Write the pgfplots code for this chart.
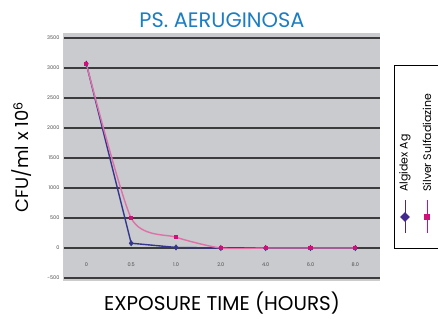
\documentclass[border=0pt]{standalone}
\usepackage{pgfplots}
\pgfplotsset{compat=1.18}
\usetikzlibrary{shapes.geometric}
\usepackage{fontspec}
\setmainfont{Poppins}
\definecolor{titleblue}{HTML}{1B7DC3}
\definecolor{algi}{HTML}{33358F}
\definecolor{silv}{HTML}{E070A8}
\definecolor{silvm}{HTML}{D0107A}
\definecolor{plotbg}{HTML}{C9CBCE}
\definecolor{gridc}{HTML}{3C3C3C}
\begin{document}
\begin{tikzpicture}[x=1bp,y=1bp]
\path[use as bounding box] (0,0) rectangle (438,318);
\begin{axis}[
  at={(63bp,38bp)}, anchor=south west,
  width=317bp, height=247bp, scale only axis,
  xmin=-0.52, xmax=6.55, ymin=-533, ymax=3583,
  axis background/.style={fill=plotbg},
  axis line style={draw=gray!40},
  axis x line*=bottom, axis y line*=left,
  xtick={0,1,2,3,4,5,6},
  xticklabels={0,0.5,1.0,2.0,4.0,6.0,8.0},
  ytick={-500,0,500,1000,1500,2000,2500,3000,3500},
  yticklabels={-500,0,500,1000,1500,2000,2500,3000,3500},
  ymajorgrids, grid style={draw=gridc, line width=1.1pt},
  tick style={draw=none},
  ticklabel style={font=\fontsize{5}{5}\selectfont, text=black!70},
  xticklabel style={yshift=21bp},
  /pgf/number format/assume math mode=true,
  clip=false,
]
\addplot[algi, line width=1.4pt, mark=diamond*, mark size=2pt, mark options={fill=algi}]
  coordinates {(0,3070) (1,80) (2,10) (3,0) (4,0) (5,0) (6,0)};
\addplot[silv, line width=1.4pt, smooth, tension=0.4, mark=square*, mark size=1.4pt, mark options={fill=silvm, draw=silvm}]
  coordinates {(0,3070) (1,500) (2,180) (3,0) (4,0) (5,0) (6,0)};
\end{axis}
\node[text=titleblue, font=\fontsize{21}{21}\selectfont] at (222,298) {PS. AERUGINOSA};
\node[rotate=90, font=\fontsize{18}{18}\selectfont] at (22,161) {CFU/ml x 10\textsuperscript{6}};
\node[font=\fontsize{20}{20}\selectfont] at (222,15) {EXPOSURE TIME (HOURS)};
% legend
\draw[black, line width=0.6pt] (394,70) rectangle (450,253);
\draw[algi!80!violet, line width=1pt] (405,85) -- (405,118);
\node[diamond, fill=algi!80!violet, inner sep=0pt, minimum size=10pt] at (405,101) {};
\draw[silvm, line width=1pt] (427,85) -- (427,118);
\node[rectangle, fill=silvm, inner sep=0pt, minimum size=7pt] at (427,101) {};
\node[rotate=90, anchor=west, font=\fontsize{11}{11}\selectfont, inner sep=0pt] at (405,126) {Algidex Ag};
\node[rotate=90, anchor=west, font=\fontsize{11}{11}\selectfont, inner sep=0pt] at (427,126) {Silver Sulfadiazine};
\end{tikzpicture}
\end{document}
